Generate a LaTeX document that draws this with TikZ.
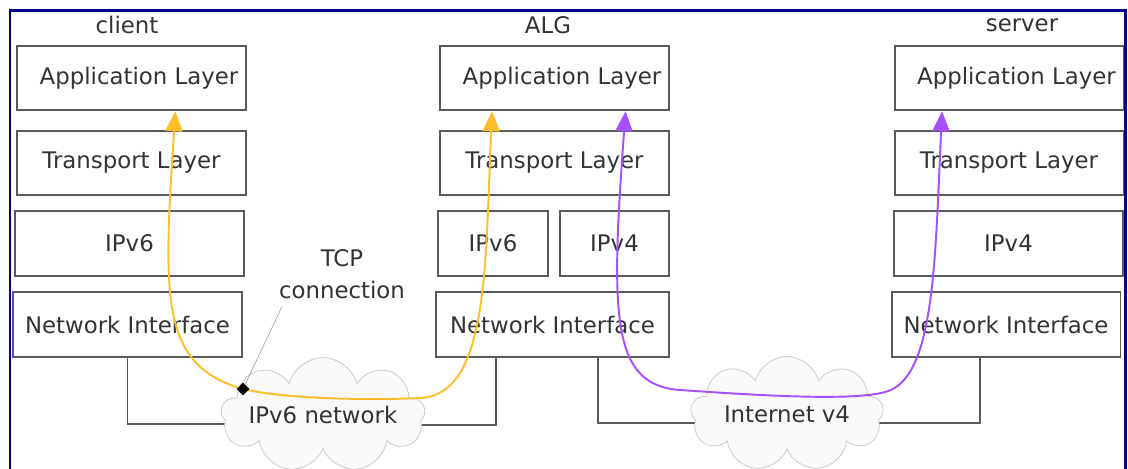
\documentclass[tikz,border=0pt]{standalone}
\usepackage{fontspec}
\setmainfont{DejaVu Sans}
\usepackage{tikz}
\usetikzlibrary{shapes,arrows.meta,positioning,calc,backgrounds}
\definecolor{frameNavy}{RGB}{0,0,140}
\definecolor{boxGray}{RGB}{90,90,90}
\definecolor{tcpYellow}{RGB}{255,190,40}
\definecolor{tcpPurple}{RGB}{165,80,255}

\begin{document}
\begin{tikzpicture}[x=0.02cm,y=-0.02cm,
    font=\fontsize{13}{15}\selectfont,text=black!80,
    layer/.style={draw=boxGray,line width=1.1pt,minimum width=4.58cm,
      minimum height=1.29cm,inner sep=0pt},
    halflayer/.style={layer,minimum width=2.19cm},
    wire/.style={draw=boxGray,line width=1.1pt},
    net/.style={cloud,cloud puffs=9,cloud ignores aspect,draw=gray!45,fill=gray!4,
      minimum width=3.86cm,minimum height=2.3cm,inner sep=0pt},
    flow/.style={line width=1.1pt,
      arrows={Triangle[width=3.4mm,length=4mm]-Triangle[width=3.4mm,length=4mm]}}]
  \useasboundingbox (0,0) rectangle (1128,468);
  \draw[frameNavy,line width=0.06cm] (10,480) -- (10,10) -- (1125,10) -- (1125,480);

  % client stack
  \node (clientlbl) at (127,25) {client};
  \node[layer] (capp) at (131.5,78) {\hspace*{0.3cm}Application Layer};
  \node[layer] (ctrans) at (131.5,163) {Transport Layer};
  \node[layer] (cip) at (129.5,243.5) {IPv6};
  \node[layer] (cni) at (127.5,324.5) {Network Interface};

  % ALG stack
  \node (alglbl) at (548,25) {ALG};
  \node[layer] (aapp) at (554.5,78) {\hspace*{0.3cm}Application Layer};
  \node[layer] (atrans) at (554.5,163) {Transport Layer};
  \node[halflayer] (aip6) at (493,243.5) {IPv6};
  \node[halflayer] (aip4) at (614.5,243.5) {IPv4};
  \node[layer,minimum width=4.66cm] (ani) at (552.5,324.5) {Network Interface};

  % server stack
  \node (serverlbl) at (1022,25) {server};
  \node[layer] (sapp) at (1009,78) {\hspace*{0.3cm}Application Layer};
  \node[layer] (strans) at (1009,163) {Transport Layer};
  \node[layer] (sip) at (1008.5,243.5) {IPv4};
  \node[layer] (sni) at (1006,324.5) {Network Interface};

  % networks
  \node[net] (net6) at (323,415) {IPv6 network};
  \node[net] (net4) at (787,414) {Internet v4};
  \begin{scope}[on background layer]
    \draw[wire] (cni.south) |- ($(net6)+(0,9)$);
    \draw[wire] ($(ani.south west)!0.26!(ani.south east)$) |- ($(net6)+(0,10)$);
    \draw[wire] ($(ani.south west)!0.695!(ani.south east)$) |- ($(net4)+(0,9)$);
    \draw[wire] ($(sni.south west)!0.387!(sni.south east)$) |- ($(net4)+(0,9)$);
  \end{scope}

  % TCP connections
  \coordinate (tcpdot) at (243,389);
  \draw[flow,tcpYellow] ($(capp.south west)!0.69!(capp.south east)$)
    .. controls (163,300) and (160,365) .. (tcpdot)
    .. controls (290,400) and (380,400) .. (420,398)
    .. controls (490,395) and (485,260) .. ($(aapp.south west)!0.23!(aapp.south east)$);
  \draw[flow,tcpPurple] ($(aapp.south west)!0.808!(aapp.south east)$)
    .. controls (610,320) and (612,385) .. (680,390)
    .. controls (740,394) and (850,402) .. (885,392)
    .. controls (935,380) and (935,260) .. ($(sapp.south west)!0.21!(sapp.south east)$);
  \node[diamond,fill=black,inner sep=0pt,minimum size=0.26cm] (tcpmark) at (tcpdot) {};
  \node[align=center,inner sep=1pt,font=\fontsize{13}{18}\selectfont] (tcplbl)
    at (342,274) {TCP\\connection};
  \draw[gray!70,thin] ([shift={(5,6)}]tcplbl.south west) -- (tcpmark);
\end{tikzpicture}
\end{document}
